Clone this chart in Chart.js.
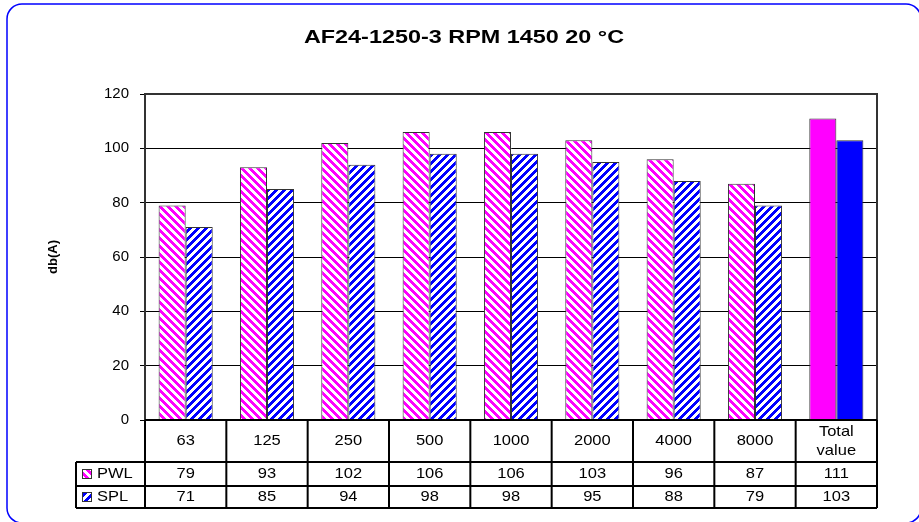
<!DOCTYPE html>
<html>
<head>
<meta charset="utf-8">
<script src="https://cdn.jsdelivr.net/npm/chart.js@4.4.1/dist/chart.umd.min.js"></script>
<style>
  body { margin: 0; background: #fff; }
  canvas { display: block; }
</style>
</head>
<body>
<canvas id="grafica" width="919" height="522"></canvas>
<script>
// Datos
const categorias = ["63", "125", "250", "500", "1000", "2000", "4000", "8000", "Total value"];
const pwl = [79, 93, 102, 106, 106, 103, 96, 87, 111];
const spl = [71, 85, 94, 98, 98, 95, 88, 79, 103];
const yMin = 0;
const yMax = 120;
const yPaso = 20;
const titulo = "AF24-1250-3 RPM 1450 20 °C";
const tituloY = "db(A)";

const ROSA = "#FF00FF";
const AZUL = "#0000FF";

// patron de rayas diagonales, dir = 1 "\" , dir = -1 "/"
function rayado(color, dir) {
  let n = 8;
  let c = document.createElement("canvas");
  c.width = n;
  c.height = n;
  let cx = c.getContext("2d");
  cx.fillStyle = "#fff";
  cx.fillRect(0, 0, n, n);
  cx.fillStyle = color;
  for (let y = 0; y < n; y++) {
    for (let x = 0; x < n; x++) {
      let k = dir > 0 ? (x - y + 2 * n) % n : (x + y) % n;
      if (k < 4) cx.fillRect(x, y, 1, 1);
    }
  }
  return document.getElementById("grafica").getContext("2d").createPattern(c, "repeat");
}

const patronRosa = rayado(ROSA, 1);
const patronAzul = rayado(AZUL, -1);

function colores(patron, solido) {
  return categorias.map((c, i) => (i === categorias.length - 1 ? solido : patron));
}

function texto(ctx, str, x, y, font, sx, align) {
  ctx.save();
  ctx.font = font;
  ctx.textAlign = align || "center";
  ctx.textBaseline = "middle";
  ctx.translate(x, y);
  ctx.scale(sx, 1);
  ctx.fillText(str, 0, 0);
  ctx.restore();
}

const marco = {
  id: "marco",
  beforeDraw(chart) {
    let ctx = chart.ctx;
    ctx.save();
    ctx.fillStyle = "#fff";
    ctx.fillRect(0, 0, chart.width, chart.height);
    ctx.strokeStyle = AZUL;
    ctx.lineWidth = 1.5;
    ctx.beginPath();
    ctx.roundRect(7, 4, 914, 519, 15);
    ctx.stroke();
    ctx.restore();
  },
  beforeDatasetsDraw(chart) {
    let a = chart.chartArea;
    let ctx = chart.ctx;
    ctx.save();
    ctx.strokeStyle = "#333";
    ctx.lineWidth = 2;
    ctx.strokeRect(a.left, a.top, a.right - a.left, a.bottom - a.top);
    ctx.restore();
  },
  afterDraw(chart) {
    let ctx = chart.ctx;
    let a = chart.chartArea;
    let x = chart.scales.x;
    ctx.save();
    ctx.fillStyle = "#000";
    // titulo
    texto(ctx, titulo, 464, 38, "bold 18px 'Liberation Sans', Arial", 1.3);
    // titulo eje y
    ctx.save();
    ctx.translate(53, 257);
    ctx.rotate(-Math.PI / 2);
    texto(ctx, tituloY, 0, 0, "bold 13px 'Liberation Sans', Arial", 1);
    ctx.restore();

    // tabla de datos
    let mitad = (x.getPixelForValue(1) - x.getPixelForValue(0)) / 2;
    let y0 = a.bottom;
    let y1 = y0 + 42;
    let y2 = y1 + 24;
    let y3 = y2 + 22;
    let izq = 76;
    let fuente = "15px 'Liberation Sans', Arial";
    ctx.strokeStyle = "#000";
    ctx.lineWidth = 2;
    ctx.beginPath();
    ctx.moveTo(a.left, y0); ctx.lineTo(a.right, y0);
    [y1, y2, y3].forEach((yy) => { ctx.moveTo(izq, yy); ctx.lineTo(a.right, yy); });
    ctx.moveTo(izq, y1); ctx.lineTo(izq, y3);
    for (let i = 0; i <= categorias.length; i++) {
      let xx = i < categorias.length ? x.getPixelForValue(i) - mitad : a.right;
      ctx.moveTo(xx, y0); ctx.lineTo(xx, y3);
    }
    ctx.stroke();

    categorias.forEach((c, i) => {
      let cx = x.getPixelForValue(i);
      let partes = c.split(" ");
      if (partes.length > 1 && isNaN(Number(c))) {
        texto(ctx, partes[0], cx, (y0 + y1) / 2 - 9, fuente, 1.1);
        texto(ctx, partes[1], cx, (y0 + y1) / 2 + 10, fuente, 1.1);
      } else {
        texto(ctx, c, cx, (y0 + y1) / 2, fuente, 1.1);
      }
      texto(ctx, String(pwl[i]), cx, (y1 + y2) / 2, fuente, 1.1);
      texto(ctx, String(spl[i]), cx, (y2 + y3) / 2, fuente, 1.1);
    });

    // leyenda
    let filas = [
      { nombre: "PWL", patron: patronRosa, y: (y1 + y2) / 2 },
      { nombre: "SPL", patron: patronAzul, y: (y2 + y3) / 2 },
    ];
    filas.forEach((f) => {
      ctx.fillStyle = f.patron;
      ctx.fillRect(82, f.y - 5, 9, 9);
      ctx.lineWidth = 1;
      ctx.strokeStyle = "#333";
      ctx.strokeRect(82.5, f.y - 4.5, 9, 9);
      ctx.fillStyle = "#000";
      texto(ctx, f.nombre, 97, f.y, fuente, 1.1, "left");
    });
    ctx.restore();
  },
};

let chart = new Chart(document.getElementById("grafica"), {
  type: "bar",
  data: {
    labels: categorias,
    datasets: [
      {
        label: "PWL",
        data: pwl,
        backgroundColor: colores(patronRosa, ROSA),
        borderColor: "#333",
        borderWidth: 1,
        barPercentage: 1,
        categoryPercentage: 0.665,
      },
      {
        label: "SPL",
        data: spl,
        backgroundColor: colores(patronAzul, AZUL),
        borderColor: "#333",
        borderWidth: 1,
        barPercentage: 1,
        categoryPercentage: 0.665,
      },
    ],
  },
  options: {
    responsive: false,
    animation: false,
    devicePixelRatio: 1,
    layout: {
      padding: { left: 20, right: 42, top: 94, bottom: 102 },
    },
    scales: {
      x: {
        display: false,
      },
      y: {
        min: yMin,
        max: yMax,
        afterFit: function (scale) {
          scale.width = 125;
        },
        ticks: {
          stepSize: yPaso,
          color: "#000",
          padding: 11,
          font: { family: "'Liberation Sans', Arial", size: 15 },
        },
        grid: {
          color: "#000",
          lineWidth: 1,
          tickLength: 5,
          tickColor: "#000",
        },
        border: {
          display: true,
          color: "#000",
          width: 2,
        },
      },
    },
    plugins: {
      legend: { display: false },
      tooltip: { enabled: false },
    },
  },
  plugins: [marco],
});
</script>
</body>
</html>
